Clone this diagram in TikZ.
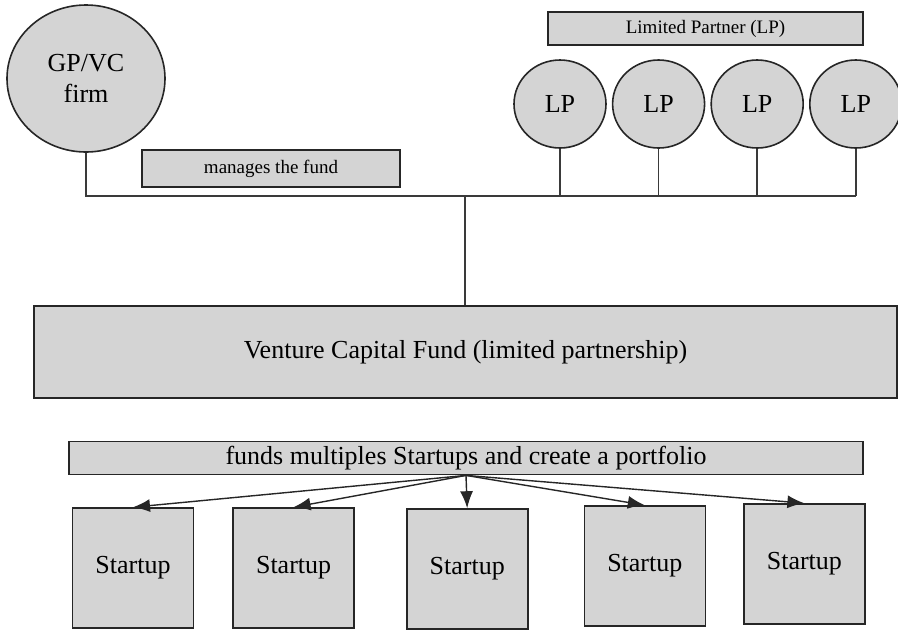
\documentclass[tikz,border=0pt]{standalone}
\usepackage{fontspec}
\setmainfont{Liberation Serif}
\usepackage{tikz}
\usetikzlibrary{shapes.geometric, arrows.meta, positioning}
\definecolor{mfill}{HTML}{D4D4D4}
\definecolor{mline}{HTML}{262626}
\definecolor{mwire}{HTML}{3A3A3A}
\newcommand{\bigtext}{\fontsize{26}{31}\selectfont}
\newcommand{\smalltext}{\fontsize{19}{23}\selectfont}
\tikzstyle{firm} = [ellipse, minimum width = 158pt, minimum height = 147pt, inner sep = 0pt, text centered, font = \bigtext, draw = mline, line width = 1.6pt, fill = mfill]
\tikzstyle{partner} = [ellipse, minimum width = 92pt, minimum height = 88pt, inner sep = 0pt, font = \bigtext, draw = mline, line width = 1.6pt, fill = mfill]
\tikzstyle{caption} = [rectangle, minimum height = 34pt, inner sep = 0pt, font = \smalltext, draw = mline, line width = 1.6pt, fill = mfill]
\tikzstyle{fundbox} = [rectangle, minimum width = 863pt, minimum height = 92pt, font = \bigtext, draw = mline, line width = 1.6pt, fill = mfill]
\tikzstyle{startup} = [rectangle, minimum width = 121pt, minimum height = 120pt, font = \bigtext, draw = mline, line width = 1.6pt, fill = mfill]
\tikzstyle{wire} = [line width = 1.5pt, draw = mwire]
\tikzstyle{feed} = [line width = 1.4pt, draw = mline, -{Latex[length=17pt, width=13pt]}]

\begin{document}
\begin{tikzpicture}[x = 1pt, y = -1pt, align = center, node distance = 38pt]
\useasboundingbox (0,0) rectangle (898,630);
% top row
\node (gp) [firm] at (86,78.5) {GP/VC\\firm};
\node (lp1) [partner] at (560,104) {LP};
\node (lp2) [partner, right = 5pt of lp1] {LP};
\node (lp3) [partner, right = 5pt of lp2] {LP};
\node (lp4) [partner, right = 5pt of lp3] {LP};
\node (lpcap) [caption, minimum width = 315pt, minimum height = 33pt] at (705.5,28.5) {Limited Partner (LP)};
\node (manages) [caption, minimum width = 258pt, minimum height = 37pt] at (271,168.5) {manages the fund};
\coordinate (hub) at (465,196);
% fund and portfolio
\node (fund) [fundbox] at (465.5,352) {Venture Capital Fund (limited partnership)};
\node (portfolio) [caption, minimum width = 794pt, minimum height = 33pt, font = \bigtext, below = 42pt of fund, xshift = 0.5pt] {funds multiples Startups and create a portfolio};
\node (st1) [startup] at (133,568) {Startup};
\node (st2) [startup, right = of st1] {Startup};
\node (st3) [startup, right = 51pt of st2, yshift = -1pt] {Startup};
\node (st4) [startup, right = 55pt of st3, yshift = 3pt] {Startup};
\node (st5) [startup, right = 37pt of st4, yshift = 2pt] {Startup};
% connectors
\draw [wire] (gp.south) |- (lp4.south |- hub);
\draw [wire] (lp1.south) -- (lp1.south |- hub);
\draw [wire] (lp2.south) -- (lp2.south |- hub);
\draw [wire] (lp3.south) -- (lp3.south |- hub);
\draw [wire] (lp4.south) -- (lp4.south |- hub);
\draw [wire] (hub) -- (hub |- fund.north);
\draw [feed] (portfolio.south) -- (st1.north);
\draw [feed] (portfolio.south) -- (st2.north);
\draw [feed] (portfolio.south) -- (st3.north);
\draw [feed] (portfolio.south) -- (st4.north);
\draw [feed] (portfolio.south) -- (st5.north);
\end{tikzpicture}
\end{document}
